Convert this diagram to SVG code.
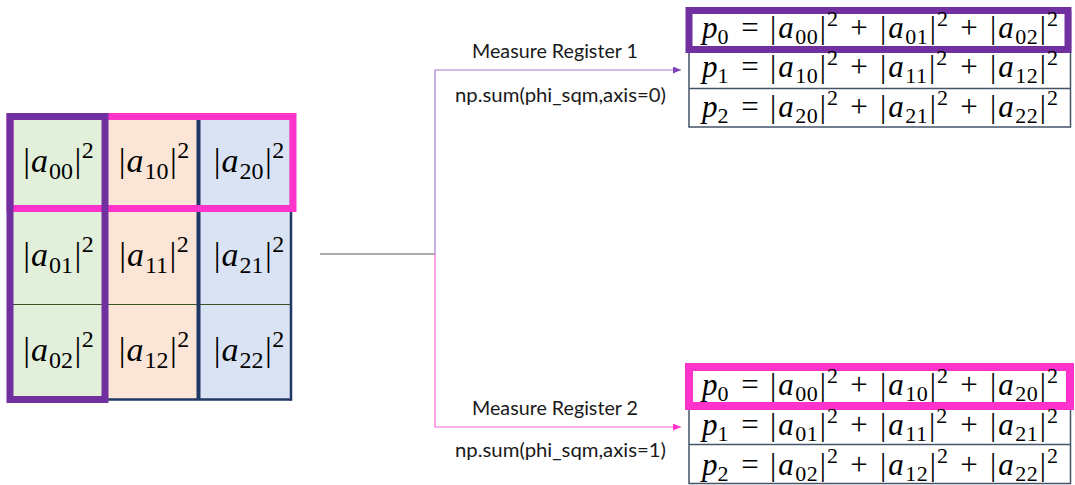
<svg xmlns="http://www.w3.org/2000/svg" width="1075" height="485" viewBox="0 0 1075 485">
<style>
.m{font-family:"Liberation Serif","DejaVu Serif",serif;fill:#000}
.g{font-size:34px}
.t{font-size:31px}
.i{font-style:italic}
.gs{font-size:24px}
.ts{font-size:22px}
.lbl{font-family:Lato,"Liberation Sans",sans-serif;font-size:18.5px;fill:#1a1a1a;text-anchor:middle}
.tb{fill:#fff;stroke:#44546A;stroke-width:1.5}
.rl{stroke:#44546A;stroke-width:1.5}
</style>
<defs>
<marker id="ap" markerUnits="userSpaceOnUse" markerWidth="9" markerHeight="8" refX="8" refY="3.5" orient="auto"><path d="M0,0 L8,3.5 L0,7 z" fill="#7E3FB8"/></marker>
<marker id="ak" markerUnits="userSpaceOnUse" markerWidth="9" markerHeight="8" refX="8" refY="3.5" orient="auto"><path d="M0,0 L8,3.5 L0,7 z" fill="#FF33CC"/></marker>
</defs>
<rect width="1075" height="485" fill="#fff"/>

<g id="grid">
<rect x="10" y="116" width="94" height="283" fill="#E2EFDA"/>
<rect x="104" y="116" width="94.5" height="283" fill="#FBE5D6"/>
<rect x="198.5" y="116" width="93" height="283" fill="#DAE3F3"/>
<line x1="13" y1="304.5" x2="290" y2="304.5" stroke="#375623" stroke-width="1.2"/>
<line x1="198.5" y1="116" x2="198.5" y2="400" stroke="#1F3864" stroke-width="4"/>
<line x1="291" y1="116" x2="291" y2="400.5" stroke="#1F3864" stroke-width="2.5"/>
<line x1="104" y1="399.5" x2="292" y2="399.5" stroke="#1F3864" stroke-width="2.5"/>
<rect x="10" y="116.5" width="283" height="92" fill="none" stroke="#FF33CC" stroke-width="7"/>
<rect x="10" y="116.5" width="95" height="283" fill="none" stroke="#7030A0" stroke-width="7"/>
<g class="m g" text-anchor="middle">
<text x="58.5" y="172">|<tspan class="i" dx="1">a</tspan><tspan class="gs" dy="7" dx="1">00</tspan><tspan dy="-7" dx="1.5">|</tspan><tspan class="gs" dy="-14" dx="0.5">2</tspan></text>
<text x="154" y="172">|<tspan class="i" dx="1">a</tspan><tspan class="gs" dy="7" dx="1">10</tspan><tspan dy="-7" dx="1.5">|</tspan><tspan class="gs" dy="-14" dx="0.5">2</tspan></text>
<text x="249" y="172">|<tspan class="i" dx="1">a</tspan><tspan class="gs" dy="7" dx="1">20</tspan><tspan dy="-7" dx="1.5">|</tspan><tspan class="gs" dy="-14" dx="0.5">2</tspan></text>
<text x="58.5" y="266">|<tspan class="i" dx="1">a</tspan><tspan class="gs" dy="7" dx="1">01</tspan><tspan dy="-7" dx="1.5">|</tspan><tspan class="gs" dy="-14" dx="0.5">2</tspan></text>
<text x="154" y="266">|<tspan class="i" dx="1">a</tspan><tspan class="gs" dy="7" dx="1">11</tspan><tspan dy="-7" dx="1.5">|</tspan><tspan class="gs" dy="-14" dx="0.5">2</tspan></text>
<text x="249" y="266">|<tspan class="i" dx="1">a</tspan><tspan class="gs" dy="7" dx="1">21</tspan><tspan dy="-7" dx="1.5">|</tspan><tspan class="gs" dy="-14" dx="0.5">2</tspan></text>
<text x="58.5" y="361">|<tspan class="i" dx="1">a</tspan><tspan class="gs" dy="7" dx="1">02</tspan><tspan dy="-7" dx="1.5">|</tspan><tspan class="gs" dy="-14" dx="0.5">2</tspan></text>
<text x="154" y="361">|<tspan class="i" dx="1">a</tspan><tspan class="gs" dy="7" dx="1">12</tspan><tspan dy="-7" dx="1.5">|</tspan><tspan class="gs" dy="-14" dx="0.5">2</tspan></text>
<text x="249" y="361">|<tspan class="i" dx="1">a</tspan><tspan class="gs" dy="7" dx="1">22</tspan><tspan dy="-7" dx="1.5">|</tspan><tspan class="gs" dy="-14" dx="0.5">2</tspan></text>
</g>
</g>

<g id="connectors" fill="none" stroke-width="1.2">
<line x1="320" y1="254" x2="435" y2="254" stroke="#595959"/>
<path d="M435,254 V70 H681" stroke="#A47FD0" marker-end="url(#ap)"/>
<path d="M435,254 V427 H681" stroke="#FF66D6" marker-end="url(#ak)"/>
</g>

<g id="label-reg1">
<text class="lbl" x="555" y="58" textLength="166" lengthAdjust="spacingAndGlyphs">Measure Register 1</text>
<text class="lbl" x="560.5" y="102" textLength="211" lengthAdjust="spacingAndGlyphs">np.sum(phi_sqm,axis=0)</text>
</g>
<g id="label-reg2">
<text class="lbl" x="555" y="415" textLength="166" lengthAdjust="spacingAndGlyphs">Measure Register 2</text>
<text class="lbl" x="560.5" y="457" textLength="211" lengthAdjust="spacingAndGlyphs">np.sum(phi_sqm,axis=1)</text>
</g>

<g id="table-reg1">
<rect class="tb" x="689" y="12" width="381.5" height="115"/>
<line class="rl" x1="689" y1="50.5" x2="1070.5" y2="50.5"/>
<line class="rl" x1="689" y1="88.5" x2="1070.5" y2="88.5"/>
<rect x="689" y="10.5" width="379" height="39" fill="none" stroke="#7030A0" stroke-width="7"/>
<g class="m t">
<text x="702" y="37.5"><tspan class="i">p</tspan><tspan class="ts" dy="6">0</tspan></text>
<text x="750" y="37.5" text-anchor="middle">=</text>
<text x="770" y="37.5">|<tspan class="i" dx="2">a</tspan><tspan class="ts" dy="6" dx="1.5" letter-spacing="0.5">00</tspan><tspan dy="-6" dx="1.5">|</tspan><tspan class="ts" dy="-12" dx="1">2</tspan></text>
<text x="859" y="37.5" text-anchor="middle">+</text>
<text x="880" y="37.5">|<tspan class="i" dx="2">a</tspan><tspan class="ts" dy="6" dx="1.5" letter-spacing="0.5">01</tspan><tspan dy="-6" dx="1.5">|</tspan><tspan class="ts" dy="-12" dx="1">2</tspan></text>
<text x="969" y="37.5" text-anchor="middle">+</text>
<text x="990" y="37.5">|<tspan class="i" dx="2">a</tspan><tspan class="ts" dy="6" dx="1.5" letter-spacing="0.5">02</tspan><tspan dy="-6" dx="1.5">|</tspan><tspan class="ts" dy="-12" dx="1">2</tspan></text>

<text x="702" y="77"><tspan class="i">p</tspan><tspan class="ts" dy="6">1</tspan></text>
<text x="750" y="77" text-anchor="middle">=</text>
<text x="770" y="77">|<tspan class="i" dx="2">a</tspan><tspan class="ts" dy="6" dx="1.5" letter-spacing="0.5">10</tspan><tspan dy="-6" dx="1.5">|</tspan><tspan class="ts" dy="-12" dx="1">2</tspan></text>
<text x="859" y="77" text-anchor="middle">+</text>
<text x="880" y="77">|<tspan class="i" dx="2">a</tspan><tspan class="ts" dy="6" dx="1.5" letter-spacing="0.5">11</tspan><tspan dy="-6" dx="1.5">|</tspan><tspan class="ts" dy="-12" dx="1">2</tspan></text>
<text x="969" y="77" text-anchor="middle">+</text>
<text x="990" y="77">|<tspan class="i" dx="2">a</tspan><tspan class="ts" dy="6" dx="1.5" letter-spacing="0.5">12</tspan><tspan dy="-6" dx="1.5">|</tspan><tspan class="ts" dy="-12" dx="1">2</tspan></text>

<text x="702" y="116.5"><tspan class="i">p</tspan><tspan class="ts" dy="6">2</tspan></text>
<text x="750" y="116.5" text-anchor="middle">=</text>
<text x="770" y="116.5">|<tspan class="i" dx="2">a</tspan><tspan class="ts" dy="6" dx="1.5" letter-spacing="0.5">20</tspan><tspan dy="-6" dx="1.5">|</tspan><tspan class="ts" dy="-12" dx="1">2</tspan></text>
<text x="859" y="116.5" text-anchor="middle">+</text>
<text x="880" y="116.5">|<tspan class="i" dx="2">a</tspan><tspan class="ts" dy="6" dx="1.5" letter-spacing="0.5">21</tspan><tspan dy="-6" dx="1.5">|</tspan><tspan class="ts" dy="-12" dx="1">2</tspan></text>
<text x="969" y="116.5" text-anchor="middle">+</text>
<text x="990" y="116.5">|<tspan class="i" dx="2">a</tspan><tspan class="ts" dy="6" dx="1.5" letter-spacing="0.5">22</tspan><tspan dy="-6" dx="1.5">|</tspan><tspan class="ts" dy="-12" dx="1">2</tspan></text>
</g>
</g>

<g id="table-reg2">
<rect class="tb" x="689" y="368" width="381.5" height="115.5"/>
<line class="rl" x1="689" y1="406.5" x2="1070.5" y2="406.5"/>
<line class="rl" x1="689" y1="444.5" x2="1070.5" y2="444.5"/>
<rect x="689" y="367" width="381" height="39" fill="none" stroke="#FF33CC" stroke-width="8"/>
<g class="m t">
<text x="702" y="395"><tspan class="i">p</tspan><tspan class="ts" dy="6">0</tspan></text>
<text x="750" y="395" text-anchor="middle">=</text>
<text x="770" y="395">|<tspan class="i" dx="2">a</tspan><tspan class="ts" dy="6" dx="1.5" letter-spacing="0.5">00</tspan><tspan dy="-6" dx="1.5">|</tspan><tspan class="ts" dy="-12" dx="1">2</tspan></text>
<text x="859" y="395" text-anchor="middle">+</text>
<text x="880" y="395">|<tspan class="i" dx="2">a</tspan><tspan class="ts" dy="6" dx="1.5" letter-spacing="0.5">10</tspan><tspan dy="-6" dx="1.5">|</tspan><tspan class="ts" dy="-12" dx="1">2</tspan></text>
<text x="969" y="395" text-anchor="middle">+</text>
<text x="990" y="395">|<tspan class="i" dx="2">a</tspan><tspan class="ts" dy="6" dx="1.5" letter-spacing="0.5">20</tspan><tspan dy="-6" dx="1.5">|</tspan><tspan class="ts" dy="-12" dx="1">2</tspan></text>

<text x="702" y="435"><tspan class="i">p</tspan><tspan class="ts" dy="6">1</tspan></text>
<text x="750" y="435" text-anchor="middle">=</text>
<text x="770" y="435">|<tspan class="i" dx="2">a</tspan><tspan class="ts" dy="6" dx="1.5" letter-spacing="0.5">01</tspan><tspan dy="-6" dx="1.5">|</tspan><tspan class="ts" dy="-12" dx="1">2</tspan></text>
<text x="859" y="435" text-anchor="middle">+</text>
<text x="880" y="435">|<tspan class="i" dx="2">a</tspan><tspan class="ts" dy="6" dx="1.5" letter-spacing="0.5">11</tspan><tspan dy="-6" dx="1.5">|</tspan><tspan class="ts" dy="-12" dx="1">2</tspan></text>
<text x="969" y="435" text-anchor="middle">+</text>
<text x="990" y="435">|<tspan class="i" dx="2">a</tspan><tspan class="ts" dy="6" dx="1.5" letter-spacing="0.5">21</tspan><tspan dy="-6" dx="1.5">|</tspan><tspan class="ts" dy="-12" dx="1">2</tspan></text>

<text x="702" y="475"><tspan class="i">p</tspan><tspan class="ts" dy="6">2</tspan></text>
<text x="750" y="475" text-anchor="middle">=</text>
<text x="770" y="475">|<tspan class="i" dx="2">a</tspan><tspan class="ts" dy="6" dx="1.5" letter-spacing="0.5">02</tspan><tspan dy="-6" dx="1.5">|</tspan><tspan class="ts" dy="-12" dx="1">2</tspan></text>
<text x="859" y="475" text-anchor="middle">+</text>
<text x="880" y="475">|<tspan class="i" dx="2">a</tspan><tspan class="ts" dy="6" dx="1.5" letter-spacing="0.5">12</tspan><tspan dy="-6" dx="1.5">|</tspan><tspan class="ts" dy="-12" dx="1">2</tspan></text>
<text x="969" y="475" text-anchor="middle">+</text>
<text x="990" y="475">|<tspan class="i" dx="2">a</tspan><tspan class="ts" dy="6" dx="1.5" letter-spacing="0.5">22</tspan><tspan dy="-6" dx="1.5">|</tspan><tspan class="ts" dy="-12" dx="1">2</tspan></text>
</g>
</g>
</svg>
